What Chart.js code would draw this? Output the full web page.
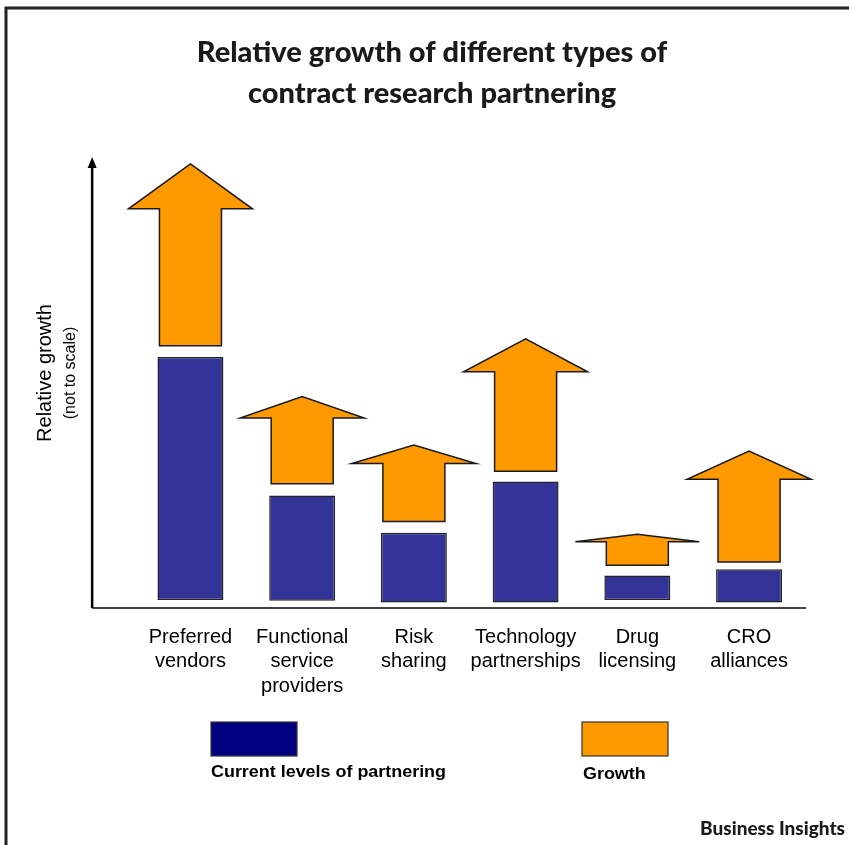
<!DOCTYPE html>
<html>
<head>
<meta charset="utf-8">
<script src="https://cdn.jsdelivr.net/npm/chart.js@4.4.1/dist/chart.umd.min.js"></script>
<style>
  html, body { margin: 0; padding: 0; background: #ffffff; }
  #wrap { width: 849px; height: 845px; position: relative; }
</style>
</head>
<body>
<div id="wrap"><canvas id="chart" width="849" height="845"></canvas></div>
<script>
// Partnering types (multi-line category labels)
const categories = [
  ['Preferred', 'vendors'],
  ['Functional', 'service', 'providers'],
  ['Risk', 'sharing'],
  ['Technology', 'partnerships'],
  ['Drug', 'licensing'],
  ['CRO', 'alliances']
];

// Current level bars: bottom and top (relative units, not to scale)
const currentBase  = [1.8, 1.6, 1.2, 1.2, 1.8, 1.2];
const currentLevel = [55.8, 25.0, 16.7, 28.1, 7.2, 8.6];

// Growth arrows: shaft start, base of the arrow head, tip
const growthStart    = [58.3, 27.6, 19.2, 30.4, 9.5, 10.2];
const growthHeadBase = [88.7, 42.2, 32.1, 52.5, 14.7, 28.6];
const growthEnd      = [98.7, 47.0, 36.2, 59.8, 16.4, 34.9];

// Relative scale bounds
const yRange = [0, 100];

const titleLines = ['Relative growth of different types of', 'contract research partnering'];
const yTitle = 'Relative growth';
const ySubtitle = '(not to scale)';
const legendItems = ['Current levels of partnering', 'Growth'];
const sourceText = 'Business Insights';

const BLUE = '#333399';
const LEGEND_BLUE = '#000080';
const ORANGE = '#FF9900';
const SANS = '"Liberation Sans", Arial, sans-serif';
const HEAD = 'Lato, "Open Sans", sans-serif';

// Text drawn with a horizontal stretch factor
function stretchedText(ctx, text, x, y, sx) {
  ctx.save();
  ctx.translate(x, y);
  ctx.scale(sx, 1);
  ctx.fillText(text, 0, 0);
  ctx.restore();
}

// Draws each growth bar as an upward block arrow
const arrowPlugin = {
  id: 'growthArrows',
  afterDatasetsDraw(chart) {
    const ctx = chart.ctx;
    const yScale = chart.scales.y;
    const meta = chart.getDatasetMeta(1);
    meta.data.forEach((bar, i) => {
      const p = bar.getProps(['x', 'y', 'base', 'width'], true);
      const headY = yScale.getPixelForValue(growthHeadBase[i]);
      const half = p.width / 2;
      ctx.save();
      ctx.beginPath();
      ctx.moveTo(p.x - half, p.base);
      ctx.lineTo(p.x - half, headY);
      ctx.lineTo(p.x - p.width, headY);
      ctx.lineTo(p.x, p.y);
      ctx.lineTo(p.x + p.width, headY);
      ctx.lineTo(p.x + half, headY);
      ctx.lineTo(p.x + half, p.base);
      ctx.closePath();
      ctx.fillStyle = ORANGE;
      ctx.fill();
      ctx.lineWidth = 1.5;
      ctx.strokeStyle = '#1a1a1a';
      ctx.lineJoin = 'miter';
      ctx.stroke();
      ctx.restore();
    });
  }
};

// Frame, title, axes, category labels, legend and source note
const decorPlugin = {
  id: 'decor',
  afterDraw(chart) {
    const ctx = chart.ctx;
    const xs = chart.scales.x;
    const ys = chart.scales.y;
    const area = chart.chartArea;
    ctx.save();

    // outer frame (top and left edges)
    ctx.strokeStyle = '#222222';
    ctx.lineWidth = 3;
    ctx.beginPath();
    ctx.moveTo(849, 8);
    ctx.lineTo(6, 8);
    ctx.lineTo(6, 845);
    ctx.stroke();

    // title
    ctx.fillStyle = '#1a1a1a';
    ctx.font = '900 29px ' + HEAD;
    ctx.textAlign = 'center';
    ctx.textBaseline = 'middle';
    ctx.fillText(titleLines[0], 432, 53);
    ctx.fillText(titleLines[1], 432, 94);

    // axes
    const axisX = xs.getPixelForValue(-0.88);
    const axisRight = xs.getPixelForValue(5.51);
    const y0 = ys.getPixelForValue(yRange[0]);
    const yTop = ys.getPixelForValue(yRange[1]);
    ctx.strokeStyle = '#444444';
    ctx.lineWidth = 2;
    ctx.beginPath();
    ctx.moveTo(axisX, y0);
    ctx.lineTo(axisRight, y0);
    ctx.stroke();
    ctx.strokeStyle = '#000000';
    ctx.lineWidth = 2.5;
    ctx.beginPath();
    ctx.moveTo(axisX, y0);
    ctx.lineTo(axisX, yTop + 8);
    ctx.stroke();
    ctx.fillStyle = '#000000';
    ctx.beginPath();
    ctx.moveTo(axisX, yTop - 1);
    ctx.lineTo(axisX - 4.5, yTop + 10);
    ctx.lineTo(axisX + 4.5, yTop + 10);
    ctx.closePath();
    ctx.fill();

    // y axis title
    ctx.fillStyle = '#000000';
    ctx.textAlign = 'center';
    ctx.textBaseline = 'middle';
    ctx.save();
    ctx.translate(45, 373);
    ctx.rotate(-Math.PI / 2);
    ctx.font = '20px ' + SANS;
    ctx.fillText(yTitle, 0, 0);
    ctx.restore();
    ctx.save();
    ctx.translate(71, 373);
    ctx.rotate(-Math.PI / 2);
    ctx.font = '16px ' + SANS;
    ctx.fillText(ySubtitle, 0, 0);
    ctx.restore();

    // category labels
    ctx.font = '20px ' + SANS;
    categories.forEach((lines, i) => {
      const x = xs.getPixelForValue(i);
      lines.forEach((t, k) => ctx.fillText(t, x, area.bottom + 29 + k * 24.5));
    });

    // legend
    ctx.lineWidth = 1.2;
    ctx.strokeStyle = '#333333';
    ctx.fillStyle = LEGEND_BLUE;
    ctx.fillRect(211, 722, 86, 34);
    ctx.strokeRect(211, 722, 86, 34);
    ctx.fillStyle = ORANGE;
    ctx.fillRect(582, 722, 86, 34);
    ctx.strokeRect(582, 722, 86, 34);
    ctx.fillStyle = '#000000';
    ctx.textAlign = 'left';
    ctx.font = 'bold 16px ' + SANS;
    stretchedText(ctx, legendItems[0], 211, 773, 1.12);
    stretchedText(ctx, legendItems[1], 583, 775, 1.12);

    // source note
    ctx.fillStyle = '#1a1a1a';
    ctx.textAlign = 'right';
    ctx.font = '900 19px ' + HEAD;
    ctx.fillText(sourceText, 845, 829);

    ctx.restore();
  }
};

new Chart(document.getElementById('chart'), {
  type: 'bar',
  data: {
    labels: categories,
    datasets: [
      {
        label: legendItems[0],
        data: currentLevel.map((v, i) => [currentBase[i], v]),
        backgroundColor: BLUE,
        borderColor: '#222222',
        borderWidth: 1.5,
        borderSkipped: false,
        barPercentage: 0.59,
        categoryPercentage: 1,
        grouped: false
      },
      {
        label: legendItems[1],
        data: growthStart.map((v, i) => [v, growthEnd[i]]),
        backgroundColor: 'rgba(0,0,0,0)',
        borderWidth: 0,
        barPercentage: 0.555,
        categoryPercentage: 1,
        grouped: false
      }
    ]
  },
  options: {
    responsive: false,
    animation: false,
    devicePixelRatio: 1,
    layout: { padding: { left: 134.6, right: 44.1, top: 158, bottom: 237 } },
    plugins: { legend: { display: false }, tooltip: { enabled: false }, title: { display: false } },
    scales: {
      x: { type: 'category', display: false, offset: true },
      y: { display: false, min: yRange[0], max: yRange[1] }
    }
  },
  plugins: [arrowPlugin, decorPlugin]
});
</script>
</body>
</html>
